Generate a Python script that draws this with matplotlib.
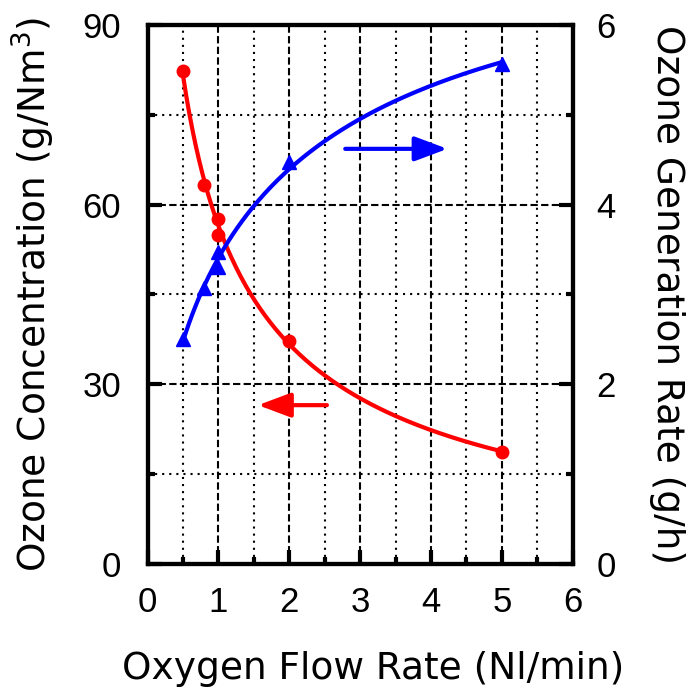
import numpy as np
import matplotlib as mpl
import matplotlib.pyplot as plt
from matplotlib.ticker import MultipleLocator

# ----------------------------
# data
# ----------------------------
flow_conc = [0.5, 0.8, 1.0, 1.0, 2.0, 5.0]
conc = [82.3, 63.3, 57.6, 54.9, 37.2, 18.7]

flow_rate = [0.5, 0.8, 1.0, 1.0, 2.0, 5.0]
rate = [2.5, 3.07, 3.3, 3.47, 4.47, 5.56]

mpl.rc('font', family=['Liberation Sans', 'DejaVu Sans'], size=25)
label_font = dict(family=['DejaVu Sans'], size=27)


def trend(x, y):
    # smooth quadratic trend in log-log space, like the original curves
    c = np.polyfit(np.log(x), np.log(y), 2)
    xs = np.linspace(min(x), max(x), 200)
    return xs, np.exp(np.polyval(c, np.log(xs)))


fig, ax = plt.subplots(figsize=(6.96, 6.91), dpi=100)
fig.subplots_adjust(left=0.212, right=0.823, bottom=0.184, top=0.964)
ax2 = ax.twinx()

# grid
ax.set_xlim(0, 6)
ax.set_ylim(0, 90)
ax2.set_ylim(0, 6)
ax.xaxis.set_major_locator(MultipleLocator(1))
ax.xaxis.set_minor_locator(MultipleLocator(0.5))
ax.yaxis.set_major_locator(MultipleLocator(30))
ax.yaxis.set_minor_locator(MultipleLocator(15))
ax2.yaxis.set_major_locator(MultipleLocator(2))
ax2.yaxis.set_minor_locator(MultipleLocator(1))
ax.grid(which='major', color='k', linestyle=(0, (3.5, 1.6)), linewidth=1.5)
ax.grid(which='minor', color='k', linestyle=(0, (1, 2.4)), linewidth=1.5)

# red: concentration
xs, ys = trend(flow_conc, conc)
ax.plot(xs, ys, color='#ff0000', linewidth=3, zorder=3)
ax.plot(flow_conc, conc, 'o', color='#ff0000', markersize=9, zorder=4)

# blue: generation rate
xs, ys = trend(flow_rate, rate)
ax2.plot(xs, ys, color='#0000ff', linewidth=3, zorder=3)
ax2.plot(flow_rate, rate, '^', color='#0000ff', markersize=10, zorder=4)

# arrows pointing at each axis
ax.annotate('', xy=(1.52, 26.5), xytext=(2.57, 26.5),
            arrowprops=dict(arrowstyle='-|>,head_length=0.8,head_width=0.3',
                            color='#ff0000', lw=3))
ax2.annotate('', xy=(4.27, 4.62), xytext=(2.75, 4.62),
             arrowprops=dict(arrowstyle='-|>,head_length=0.8,head_width=0.3',
                             color='#0000ff', lw=3))

# frame and ticks
for a in (ax, ax2):
    for s in a.spines.values():
        s.set_linewidth(3)
ax.tick_params(which='both', direction='in', top=False, right=False,
               labelsize=25)
ax.tick_params(axis='x', pad=16)
ax.tick_params(axis='y', pad=19)
ax.tick_params(which='major', length=10, width=3)
ax.tick_params(which='minor', length=5, width=3)
ax2.tick_params(which='both', direction='in', labelsize=25, pad=17)
ax2.tick_params(which='major', length=10, width=3)
ax2.tick_params(which='minor', length=5, width=3)

ax.set_xlabel('Oxygen Flow Rate (Nl/min)', labelpad=23, **label_font)
ax.xaxis.label.set_x(0.53)
ax.set_ylabel('Ozone Concentration (g/Nm$^3$)', labelpad=18, **label_font)
ax2.set_ylabel('Ozone Generation Rate (g/h)', rotation=-90, labelpad=50,
               **label_font)

fig.savefig('out.png', dpi=100)
